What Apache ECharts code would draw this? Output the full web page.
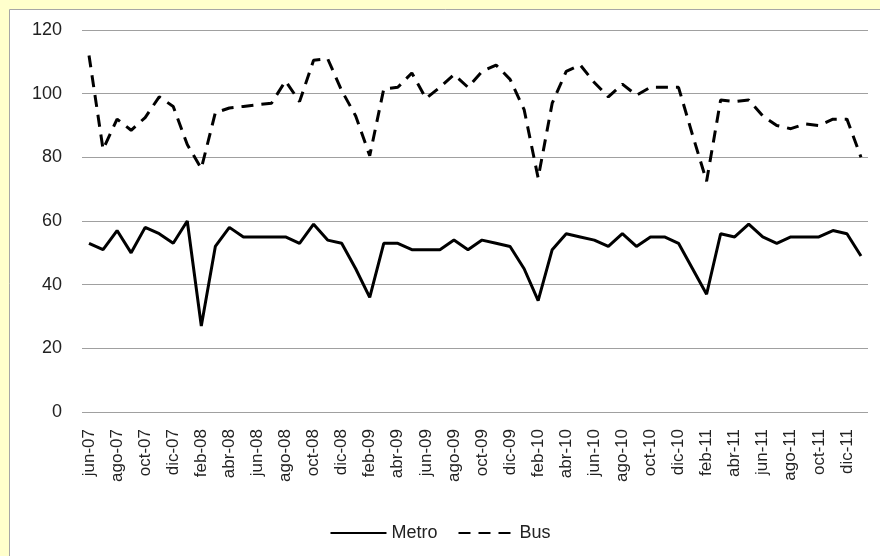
<!DOCTYPE html>
<html>
<head>
<meta charset="utf-8">
<script src="https://cdn.jsdelivr.net/npm/echarts@6/dist/echarts.min.js"></script>
<style>
html,body{margin:0;padding:0;background:#FFFFCC;}
#c{width:880px;height:556px;}
</style>
</head>
<body>
<div id="c"></div>
<script>
const categories = [
  'jun-07','jul-07','ago-07','sep-07','oct-07','nov-07','dic-07',
  'ene-08','feb-08','mar-08','abr-08','may-08','jun-08','jul-08','ago-08','sep-08','oct-08','nov-08','dic-08',
  'ene-09','feb-09','mar-09','abr-09','may-09','jun-09','jul-09','ago-09','sep-09','oct-09','nov-09','dic-09',
  'ene-10','feb-10','mar-10','abr-10','may-10','jun-10','jul-10','ago-10','sep-10','oct-10','nov-10','dic-10',
  'ene-11','feb-11','mar-11','abr-11','may-11','jun-11','jul-11','ago-11','sep-11','oct-11','nov-11','dic-11',
  'ene-12'
];
const metro = [53,51,57,50,58,56,53,60,27,52,58,55,55,55,55,53,59,54,53,45,36,53,53,51,51,51,54,51,54,53,52,45,35,51,56,55,54,52,56,52,55,55,53,45,37,56,55,59,55,53,55,55,55,57,56,49];
const bus = [112,82.5,92,88.5,92.5,99,96,84,76.5,94,95.5,96,96.5,97,104,97.5,110.5,111,101,93,80.5,101.5,102,106.5,98.5,102,106,102,107,109,104.5,95,73.5,97,107,109,103.5,99,103,99.5,102,102,102,87,72.5,98,97.5,98,93,90,89,90.5,90,92,92,80];
const yTicks = {min: 0, max: 120, interval: 20};

const chart = echarts.init(document.getElementById('c'), null, {renderer: 'canvas'});
const font = '"Liberation Sans", Arial, sans-serif';
chart.setOption({
  backgroundColor: '#FFFFCC',
  animation: false,
  graphic: [{
    type: 'rect', z: -10,
    shape: {x: 9.5, y: 9.5, width: 880, height: 560},
    style: {fill: '#FFFFFF', stroke: '#A6A6A6', lineWidth: 1}
  }],
  grid: {left: 82, right: 12, top: 30, bottom: 144, containLabel: false},
  legend: {
    bottom: 9, left: 'center',
    itemWidth: 56, itemHeight: 14, itemGap: 20,
    itemStyle: {color: 'rgba(0,0,0,0)', borderColor: 'rgba(0,0,0,0)', borderWidth: 0},
    textStyle: {fontFamily: font, fontSize: 18, color: '#222'},
    data: ['Metro', 'Bus']
  },
  xAxis: {
    type: 'category',
    data: categories,
    boundaryGap: true,
    axisLine: {show: false},
    axisTick: {show: false},
    axisLabel: {interval: 1, rotate: 90, fontFamily: font, fontSize: 17, color: '#222', margin: 17}
  },
  yAxis: {
    type: 'value',
    min: yTicks.min, max: yTicks.max, interval: yTicks.interval,
    axisLine: {show: false},
    axisTick: {show: false},
    axisLabel: {fontFamily: font, fontSize: 18, color: '#222', margin: 20},
    splitLine: {lineStyle: {color: '#A0A0A0', width: 1}}
  },
  series: [
    {name: 'Metro', type: 'line', data: metro, symbol: 'none',
     lineStyle: {color: '#000', width: 3, type: 'solid'}, itemStyle: {color: '#000'}},
    {name: 'Bus', type: 'line', data: bus, symbol: 'none',
     lineStyle: {color: '#000', width: 3, type: [12, 8]}, itemStyle: {color: '#000'}}
  ]
});
</script>
</body>
</html>
